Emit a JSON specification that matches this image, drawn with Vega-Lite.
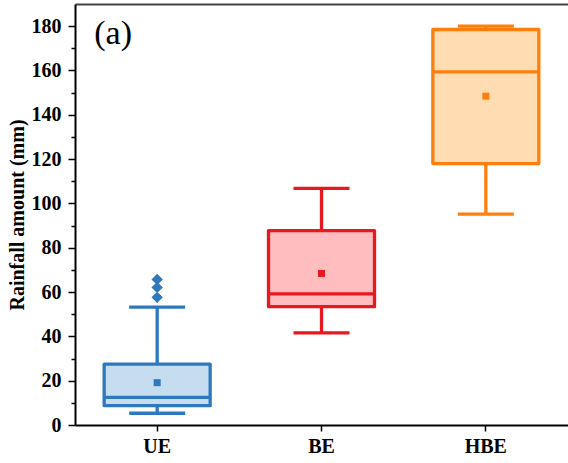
{
  "$schema": "https://vega.github.io/schema/vega-lite/v6.json",
  "width": 493,
  "height": 421,
  "autosize": {"type": "none"},
  "padding": {"left": 75, "top": 4, "right": 0, "bottom": 38},
  "background": "white",
  "config": {"view": {"stroke": null}, "axis": {"grid": false}},
  "datasets": {
    "boxes": [
      {"cat": "UE", "lo": 5.3, "q1": 8.7, "med": 12.5, "q3": 27.5, "hi": 53.2, "mean": 19.1},
      {"cat": "BE", "lo": 41.6, "q1": 53.4, "med": 59.2, "q3": 87.7, "hi": 106.8, "mean": 68.4},
      {"cat": "HBE", "lo": 95.2, "q1": 118.0, "med": 159.4, "q3": 178.5, "hi": 180.0, "mean": 148.4}
    ],
    "outliers": [
      {"cat": "UE", "v": 57.6},
      {"cat": "UE", "v": 62.1},
      {"cat": "UE", "v": 65.7}
    ],
    "label": [{"cat": "UE", "v": 176.5, "text": "(a)"}]
  },
  "resolve": {"axis": {"x": "independent", "y": "independent"}},
  "layer": [
    {
      "data": {"name": "boxes"},
      "mark": {"type": "rule", "strokeWidth": 3.3},
      "encoding": {
        "x": {
          "field": "cat", "type": "nominal", "sort": ["UE", "BE", "HBE"],
          "scale": {"paddingInner": 0, "paddingOuter": 0},
          "axis": {
            "orient": "bottom", "title": null, "labelAngle": 0,
            "labelFont": "Liberation Serif", "labelFontWeight": "bold", "labelFontSize": 20,
            "labelColor": "black", "labelPadding": 5,
            "domainColor": "black", "domainWidth": 2, "tickColor": "black", "tickWidth": 1.5, "tickSize": 6
          }
        },
        "y": {
          "field": "lo", "type": "quantitative",
          "scale": {"domain": [0, 190], "nice": false, "zero": true},
          "axis": {
            "orient": "left", "values": [0, 20, 40, 60, 80, 100, 120, 140, 160, 180],
            "title": "Rainfall amount (mm)", "titleFont": "Liberation Serif", "titleFontWeight": "bold",
            "titleFontSize": 20, "titleColor": "black", "titlePadding": 4,
            "labelFont": "Liberation Serif", "labelFontWeight": "bold", "labelFontSize": 20,
            "labelColor": "black", "labelPadding": 7,
            "domainColor": "black", "domainWidth": 2, "tickColor": "black", "tickWidth": 1.5, "tickSize": 7
          }
        },
        "y2": {"field": "hi"},
        "color": {
          "field": "cat", "type": "nominal",
          "scale": {"domain": ["UE", "BE", "HBE"], "range": ["#2E78BD", "#E5191F", "#FF7F0E"]},
          "legend": null
        }
      }
    },
    {
      "data": {"name": "boxes"},
      "mark": {"type": "tick", "thickness": 3.3, "size": 56, "opacity": 1},
      "encoding": {
        "x": {
          "field": "cat", "type": "nominal", "sort": ["UE", "BE", "HBE"],
          "axis": {"orient": "top", "labels": false, "ticks": false, "title": null, "domainColor": "#444", "domainWidth": 2}
        },
        "y": {
          "field": "lo", "type": "quantitative",
          "axis": {
            "orient": "left", "values": [10, 30, 50, 70, 90, 110, 130, 150, 170],
            "labels": false, "domain": false, "title": null,
            "tickColor": "black", "tickWidth": 1.5, "tickSize": 4
          }
        },
        "color": {"field": "cat", "type": "nominal", "legend": null}
      }
    },
    {
      "data": {"name": "boxes"},
      "mark": {"type": "tick", "thickness": 3.3, "size": 56, "opacity": 1},
      "encoding": {
        "x": {"field": "cat", "type": "nominal", "sort": ["UE", "BE", "HBE"], "axis": null},
        "y": {"field": "hi", "type": "quantitative", "axis": null},
        "color": {"field": "cat", "type": "nominal", "legend": null}
      }
    },
    {
      "data": {"name": "boxes"},
      "mark": {"type": "bar", "width": {"band": 0.645}, "strokeWidth": 3.3, "strokeJoin": "round"},
      "encoding": {
        "x": {"field": "cat", "type": "nominal", "sort": ["UE", "BE", "HBE"], "axis": null},
        "y": {"field": "q1", "type": "quantitative", "axis": null},
        "y2": {"field": "q3"},
        "fill": {
          "field": "cat", "type": "nominal",
          "scale": {"domain": ["UE", "BE", "HBE"], "range": ["#C6DCEF", "#FFBDBF", "#FFDCB2"]},
          "legend": null
        },
        "stroke": {
          "field": "cat", "type": "nominal",
          "scale": {"domain": ["UE", "BE", "HBE"], "range": ["#2E78BD", "#E5191F", "#FF7F0E"]},
          "legend": null
        }
      }
    },
    {
      "data": {"name": "boxes"},
      "mark": {"type": "tick", "thickness": 3.3, "size": 106, "opacity": 1},
      "encoding": {
        "x": {"field": "cat", "type": "nominal", "sort": ["UE", "BE", "HBE"], "axis": null},
        "y": {"field": "med", "type": "quantitative", "axis": null},
        "color": {"field": "cat", "type": "nominal", "legend": null}
      }
    },
    {
      "data": {"name": "boxes"},
      "mark": {"type": "point", "shape": "square", "filled": true, "opacity": 1, "size": 49},
      "encoding": {
        "x": {"field": "cat", "type": "nominal", "sort": ["UE", "BE", "HBE"], "axis": null},
        "y": {"field": "mean", "type": "quantitative", "axis": null},
        "color": {"field": "cat", "type": "nominal", "legend": null}
      }
    },
    {
      "data": {"name": "outliers"},
      "mark": {"type": "point", "shape": "diamond", "filled": true, "opacity": 1, "size": 130},
      "encoding": {
        "x": {"field": "cat", "type": "nominal", "sort": ["UE", "BE", "HBE"], "axis": null},
        "y": {"field": "v", "type": "quantitative", "axis": null},
        "color": {"field": "cat", "type": "nominal", "legend": null}
      }
    },
    {
      "data": {"name": "label"},
      "mark": {"type": "text", "font": "Liberation Serif", "fontSize": 34, "color": "black", "dx": -44, "baseline": "middle", "align": "center"},
      "encoding": {
        "x": {"field": "cat", "type": "nominal", "sort": ["UE", "BE", "HBE"], "axis": null},
        "y": {"field": "v", "type": "quantitative", "axis": null},
        "text": {"field": "text"}
      }
    }
  ]
}
